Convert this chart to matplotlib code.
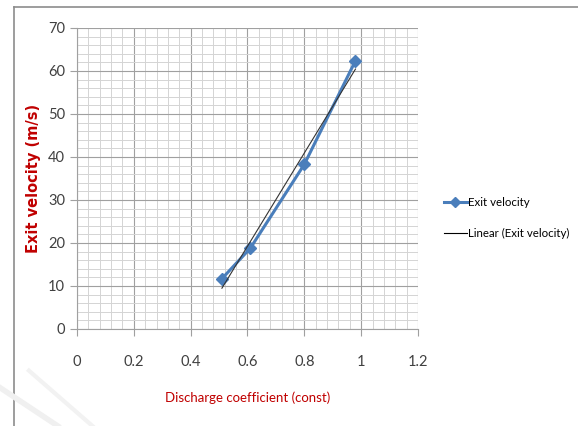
import numpy as np
import matplotlib
matplotlib.use('Agg')
from matplotlib import pyplot as plt
from matplotlib.lines import Line2D
from matplotlib.ticker import MultipleLocator

# values
discharge = [0.51, 0.61, 0.80, 0.98]
velocity = [11.7, 18.8, 38.3, 62.4]
xticks = [0, 0.2, 0.4, 0.6, 0.8, 1, 1.2]
xticklabels = ['0', '0.2', '0.4', '0.6', '0.8', '1', '1.2']
yticks = [0, 10, 20, 30, 40, 50, 60, 70]

plt.rcParams['font.family'] = ['Lato', 'DejaVu Sans']

fig = plt.figure(figsize=(5.78, 4.26), dpi=100)
ax = fig.add_axes([0.1332, 0.2277, 0.59, 0.7066])

blue = '#4A7EBB'
ax.plot(discharge, velocity, color=blue, lw=2.2, marker='D', ms=6,
        mec=blue, mfc=blue, zorder=3)

# linear trendline
k, b = np.polyfit(discharge, velocity, 1)
xs = np.array([min(discharge), max(discharge)])
ax.plot(xs, k * xs + b, color='#333333', lw=0.8, zorder=4)

ax.set_xlim(0, 1.2)
ax.set_ylim(0, 70)
ax.set_xticks(xticks)
ax.set_xticklabels(xticklabels)
ax.set_yticks(yticks)
ax.xaxis.set_minor_locator(MultipleLocator(0.04))
ax.yaxis.set_minor_locator(MultipleLocator(2))
ax.grid(which='major', color='#a0a0a0', lw=0.8)
ax.grid(which='minor', color='#d4d4d4', lw=0.7)
ax.set_axisbelow(True)

for s in ['top', 'right']:
    ax.spines[s].set_visible(False)
ax.spines['left'].set_color('#a0a0a0')
ax.spines['bottom'].set_color('#a0a0a0')
ax.tick_params(which='major', length=5, color='#a0a0a0', labelsize=10.5,
               labelcolor='#404040')
ax.tick_params(axis='x', pad=14)
ax.tick_params(which='minor', length=0)

ax.set_xlabel('Discharge coefficient (const)', color='#C00000', fontsize=9.5,
              labelpad=16)
ax.set_ylabel('Exit velocity (m/s)', color='#C00000', fontsize=10.5,
              fontweight='bold', family='DejaVu Sans', labelpad=5)

handles = [Line2D([], [], color=blue, lw=2.2, marker='D', ms=5),
           Line2D([], [], color='black', lw=0.8)]
fig.legend(handles, ['Exit velocity', 'Linear (Exit velocity)'],
           loc='center left', bbox_to_anchor=(0.75, 0.488), frameon=False,
           fontsize=8.3, handlelength=2.0, handletextpad=0.1,
           labelspacing=1.7)

# chart frame
fig.add_artist(Line2D([0.024, 1.0], [0.984, 0.984], color='#8c8c8c', lw=1.2))
fig.add_artist(Line2D([0.024, 0.024], [0.0, 0.984], color='#8c8c8c', lw=1.2))

# faint watermark strokes
fig.add_artist(Line2D([0.0, 0.10], [0.09, 0.0], color='#f0f0f0', lw=4))
fig.add_artist(Line2D([0.05, 0.16], [0.13, 0.0], color='#f2f2f2', lw=3))

fig.savefig('out.png', dpi=100)
